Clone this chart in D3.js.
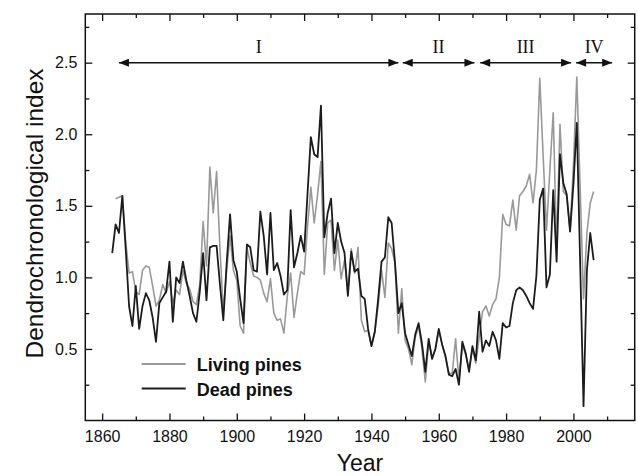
<!DOCTYPE html>
<html>
<head>
    <meta charset="utf-8">
    <script src="https://d3js.org/d3.v7.min.js"></script>
    <style>
        body { margin: 0; background: #fff; }
        text { font-family: "Liberation Sans", Arial, sans-serif; }
    </style>
</head>
<body>
<script type="text/javascript">

    let width = 638,
        height = 476;

    // plot box in px
    let plotLeft = 85.3, plotRight = 634.7, plotTop = 14, plotBottom = 420.5;

    // one value per year, 1863 .. 2006
    let years = d3.range(1863, 2007);

    let deadPines = [
        1.17, 1.37, 1.31, 1.57, 1.20, 0.80, 0.66, 0.94, 0.64, 0.80,   // 1863-1872
        0.89, 0.84, 0.72, 0.55, 0.82, 0.86, 0.90, 1.11, 0.69, 1.00,   // 1873-1882
        0.96, 1.11, 0.98, 0.87, 0.75, 0.69, 0.90, 1.17, 0.84, 1.21,   // 1883-1892
        1.22, 1.22, 0.95, 0.70, 1.10, 1.44, 1.12, 1.04, 0.85, 0.68,   // 1893-1902
        1.23, 1.21, 1.05, 1.04, 1.46, 1.29, 1.02, 1.45, 1.05, 1.10,   // 1903-1912
        1.01, 0.88, 0.91, 1.47, 1.07, 1.17, 1.29, 1.18, 1.58, 1.98,   // 1913-1922
        1.86, 1.84, 2.20, 1.28, 1.45, 1.55, 1.17, 1.38, 1.25, 1.17,   // 1923-1932
        0.87, 1.18, 1.04, 1.06, 0.87, 0.85, 0.64, 0.52, 0.62, 0.85,   // 1933-1942
        1.11, 1.14, 1.42, 1.38, 1.10, 0.75, 0.82, 0.61, 0.53, 0.45,   // 1943-1952
        0.60, 0.68, 0.54, 0.34, 0.57, 0.43, 0.50, 0.64, 0.53, 0.45,   // 1953-1962
        0.32, 0.31, 0.36, 0.25, 0.55, 0.47, 0.34, 0.52, 0.42, 0.76,   // 1963-1972
        0.48, 0.56, 0.52, 0.62, 0.56, 0.43, 0.68, 0.65, 0.66, 0.82,   // 1973-1982
        0.91, 0.93, 0.91, 0.87, 0.82, 0.78, 1.01, 1.54, 1.62, 0.93,   // 1983-1992
        1.02, 1.61, 1.11, 1.86, 1.66, 1.58, 1.32, 1.65, 2.08, 1.10,   // 1993-2002
        0.10, 1.05, 1.31, 1.12                                        // 2003-2006
    ];

    let livingPines = [
        null, 1.55, 1.56, 1.57, 1.25, 1.03, 1.04, 0.90, 0.88, 1.05,   // 1863-1872
        1.08, 1.07, 0.94, 0.80, 0.84, 0.95, 0.89, 0.97, 0.82, 0.91,   // 1873-1882
        0.88, 1.05, 0.96, 0.92, 0.83, 0.81, 0.95, 1.39, 1.08, 1.77,   // 1883-1892
        1.45, 1.74, 1.20, 0.76, 1.05, 1.29, 1.05, 0.98, 0.66, 0.61,   // 1893-1902
        1.21, 1.10, 1.01, 1.00, 0.98, 0.89, 0.83, 0.99, 0.75, 0.70,   // 1903-1912
        0.71, 0.61, 0.87, 1.03, 0.72, 0.89, 1.04, 1.02, 1.35, 1.63,   // 1913-1922
        1.38, 1.58, 1.81, 1.02, 1.38, 1.40, 1.05, 1.26, 0.99, 1.12,   // 1923-1932
        0.90, 1.20, 1.03, 1.21, 0.70, 0.62, 0.63, 0.52, 0.62, 0.80,   // 1933-1942
        1.05, 0.86, 1.24, 1.20, 1.10, 0.61, 0.92, 0.56, 0.50, 0.39,   // 1943-1952
        0.58, 0.66, 0.50, 0.27, 0.55, 0.44, 0.50, 0.63, 0.53, 0.44,   // 1953-1962
        0.33, 0.33, 0.57, 0.28, 0.53, 0.46, 0.36, 0.50, 0.40, 0.58,   // 1963-1972
        0.76, 0.80, 0.73, 0.81, 0.85, 1.00, 1.44, 1.37, 1.36, 1.54,   // 1973-1982
        1.33, 1.57, 1.60, 1.64, 1.72, 1.52, 1.75, 2.39, 1.85, 1.33,   // 1983-1992
        1.75, 2.15, 1.20, 2.07, 1.60, 1.57, 1.33, 1.78, 2.40, 1.62,   // 1993-2002
        0.85, 1.31, 1.52, 1.60                                        // 2003-2006
    ];

    // growth periods shown with double arrows
    let periodLabels = ["I", "II", "III", "IV"];
    let periodStart = [1865, 1949.3, 1972.3, 2000.8];
    let periodEnd = [1948, 1970.6, 1999.3, 2011.5];

    let xMajor = [1860, 1880, 1900, 1920, 1940, 1960, 1980, 2000];
    let xMinor = [1870, 1890, 1910, 1930, 1950, 1970, 1990, 2010];
    let yMajor = [0.5, 1.0, 1.5, 2.0, 2.5];
    let yMinor = [0.25, 0.75, 1.25, 1.75, 2.25, 2.75];

    let legendNames = ["Living pines", "Dead pines"];
    let legendColors = ["#999999", "#1c1c1c"];

    let svg = d3.select("body").append("svg")
        .attr("width", width)
        .attr("height", height);

    let x = d3.scaleLinear().domain([1855, 2018.2]).range([plotLeft, plotRight]);
    let y = d3.scaleLinear().domain([0, 2.84]).range([plotBottom, plotTop]);

    // arrow head marker
    let defs = svg.append("defs");
    defs.append("marker")
        .attr("id", "head")
        .attr("viewBox", "0 0 10 8")
        .attr("refX", 10).attr("refY", 4)
        .attr("markerUnits", "userSpaceOnUse")
        .attr("markerWidth", 12).attr("markerHeight", 8)
        .attr("orient", "auto-start-reverse")
        .append("path")
            .attr("d", "M0,0 L10,4 L0,8 Z")
            .style("fill", "#111");

    function drawAxes() {
        let major = 7, minor = 4;

        // bottom with labels
        svg.append("g")
            .attr("transform", `translate(0,${plotBottom})`)
            .call(d3.axisBottom(x).tickValues(xMajor).tickFormat(d3.format("d"))
                .tickSize(-major).tickPadding(10))
            .call(g => g.select(".domain").remove())
            .call(g => g.selectAll("text").style("font-size", "16px").style("fill", "#111"));
        svg.append("g")
            .attr("transform", `translate(0,${plotBottom})`)
            .call(d3.axisBottom(x).tickValues(xMinor).tickFormat("").tickSize(-minor))
            .call(g => g.select(".domain").remove());

        // top mirror
        svg.append("g")
            .attr("transform", `translate(0,${plotTop})`)
            .call(d3.axisTop(x).tickValues(xMajor).tickFormat("").tickSize(-major))
            .call(g => g.select(".domain").remove());
        svg.append("g")
            .attr("transform", `translate(0,${plotTop})`)
            .call(d3.axisTop(x).tickValues(xMinor).tickFormat("").tickSize(-minor))
            .call(g => g.select(".domain").remove());

        // left with labels
        svg.append("g")
            .attr("transform", `translate(${plotLeft},0)`)
            .call(d3.axisLeft(y).tickValues(yMajor).tickFormat(d3.format(".1f"))
                .tickSize(-major).tickPadding(8))
            .call(g => g.select(".domain").remove())
            .call(g => g.selectAll("text").style("font-size", "16px").style("fill", "#111"));
        svg.append("g")
            .attr("transform", `translate(${plotLeft},0)`)
            .call(d3.axisLeft(y).tickValues(yMinor).tickFormat("").tickSize(-minor))
            .call(g => g.select(".domain").remove());

        // right mirror
        svg.append("g")
            .attr("transform", `translate(${plotRight},0)`)
            .call(d3.axisRight(y).tickValues(yMajor).tickFormat("").tickSize(-major))
            .call(g => g.select(".domain").remove());
        svg.append("g")
            .attr("transform", `translate(${plotRight},0)`)
            .call(d3.axisRight(y).tickValues(yMinor).tickFormat("").tickSize(-minor))
            .call(g => g.select(".domain").remove());

        svg.selectAll(".tick line").style("stroke", "#111").style("stroke-width", 1.3);

        // frame
        svg.append("rect")
            .attr("x", plotLeft).attr("y", plotTop)
            .attr("width", plotRight - plotLeft).attr("height", plotBottom - plotTop)
            .style("fill", "none")
            .style("stroke", "#111")
            .style("stroke-width", 1.5);

        // titles
        svg.append("text")
            .attr("x", (plotLeft + plotRight) / 2)
            .attr("y", 471)
            .attr("text-anchor", "middle")
            .style("font-size", "23px")
            .style("fill", "#111")
            .text("Year");
        svg.append("text")
            .attr("transform", "translate(43,213.5) rotate(-90)")
            .attr("text-anchor", "middle")
            .style("font-size", "24.5px")
            .style("fill", "#111")
            .text("Dendrochronological index");
    }

    function drawLines() {
        let line = d3.line()
            .defined(d => d[1] != null)
            .x(d => x(d[0]))
            .y(d => y(d[1]));

        let living = years.map((yr, i) => [yr, livingPines[i]]);
        let dead = years.map((yr, i) => [yr, deadPines[i]]);

        svg.append("path")
            .attr("d", line(living))
            .style("fill", "none")
            .style("stroke", legendColors[0])
            .style("stroke-width", 1.6)
            .style("stroke-linejoin", "round");

        svg.append("path")
            .attr("d", line(dead))
            .style("fill", "none")
            .style("stroke", legendColors[1])
            .style("stroke-width", 1.8)
            .style("stroke-linejoin", "round");
    }

    function drawPeriods() {
        let yArrow = y(2.5);
        let g = svg.append("g");

        g.selectAll("line")
            .data(periodLabels)
            .join("line")
                .attr("x1", (d, i) => x(periodStart[i]))
                .attr("x2", (d, i) => x(periodEnd[i]))
                .attr("y1", yArrow)
                .attr("y2", yArrow)
                .style("stroke", "#111")
                .style("stroke-width", 1.5)
                .attr("marker-start", "url(#head)")
                .attr("marker-end", "url(#head)");

        g.selectAll("text")
            .data(periodLabels)
            .join("text")
                .attr("x", (d, i) => x((periodStart[i] + periodEnd[i]) / 2))
                .attr("y", 53)
                .attr("text-anchor", "middle")
                .style("font-family", "'Liberation Serif', 'Times New Roman', serif")
                .style("font-size", "18px")
                .style("fill", "#111")
                .text(d => d);
    }

    function drawLegend() {
        let rows = [364, 388.5];
        let g = svg.append("g");
        g.selectAll("line")
            .data(legendNames)
            .join("line")
                .attr("x1", 141.7).attr("x2", 185.7)
                .attr("y1", (d, i) => rows[i]).attr("y2", (d, i) => rows[i])
                .style("stroke", (d, i) => legendColors[i])
                .style("stroke-width", 1.8);
        g.selectAll("text")
            .data(legendNames)
            .join("text")
                .attr("x", 196.7)
                .attr("y", (d, i) => rows[i] + 7)
                .style("font-size", "18px")
                .style("font-weight", "bold")
                .style("fill", "#111")
                .text(d => d);
    }

    drawLines();
    drawAxes();
    drawPeriods();
    drawLegend();
</script>
</body>
</html>
